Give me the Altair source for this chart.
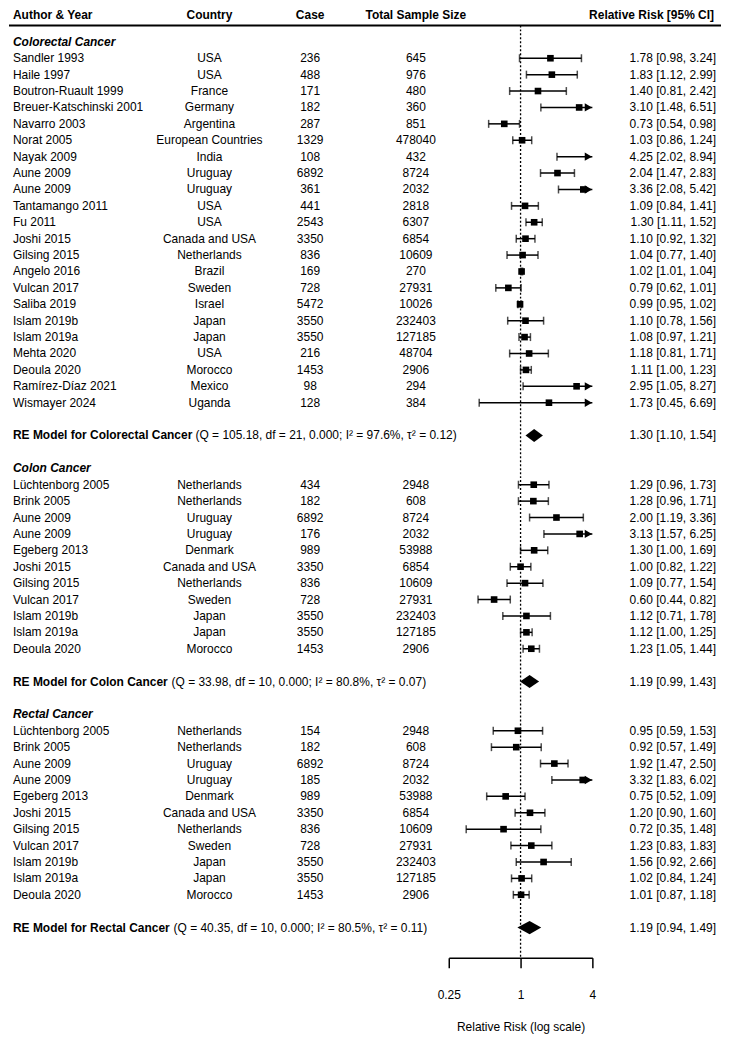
import altair as alt
import pandas as pd

FONT = "Liberation Sans"

# ---------------- data ----------------
colorectal_author = ["Sandler 1993", "Haile 1997", "Boutron-Ruault 1999", "Breuer-Katschinski 2001",
                     "Navarro 2003", "Norat 2005", "Nayak 2009", "Aune 2009", "Aune 2009",
                     "Tantamango 2011", "Fu 2011", "Joshi 2015", "Gilsing 2015", "Angelo 2016",
                     "Vulcan 2017", "Saliba 2019", "Islam 2019b", "Islam 2019a", "Mehta 2020",
                     "Deoula 2020", "Ramírez-Díaz 2021", "Wismayer 2024"]
colorectal_country = ["USA", "USA", "France", "Germany", "Argentina", "European Countries", "India",
                      "Uruguay", "Uruguay", "USA", "USA", "Canada and USA", "Netherlands", "Brazil",
                      "Sweden", "Israel", "Japan", "Japan", "USA", "Morocco", "Mexico", "Uganda"]
colorectal_case = [236, 488, 171, 182, 287, 1329, 108, 6892, 361, 441, 2543, 3350, 836, 169, 728,
                   5472, 3550, 3550, 216, 1453, 98, 128]
colorectal_total = [645, 976, 480, 360, 851, 478040, 432, 8724, 2032, 2818, 6307, 6854, 10609, 270,
                    27931, 10026, 232403, 127185, 48704, 2906, 294, 384]
colorectal_rr = [1.78, 1.83, 1.40, 3.10, 0.73, 1.03, 4.25, 2.04, 3.36, 1.09, 1.30, 1.10, 1.04, 1.02,
                 0.79, 0.99, 1.10, 1.08, 1.18, 1.11, 2.95, 1.73]
colorectal_lo = [0.98, 1.12, 0.81, 1.48, 0.54, 0.86, 2.02, 1.47, 2.08, 0.84, 1.11, 0.92, 0.77, 1.01,
                 0.62, 0.95, 0.78, 0.97, 0.81, 1.00, 1.05, 0.45]
colorectal_hi = [3.24, 2.99, 2.42, 6.51, 0.98, 1.24, 8.94, 2.83, 5.42, 1.41, 1.52, 1.32, 1.40, 1.04,
                 1.01, 1.02, 1.56, 1.21, 1.71, 1.23, 8.27, 6.69]

colon_author = ["Lüchtenborg 2005", "Brink 2005", "Aune 2009", "Aune 2009", "Egeberg 2013",
                "Joshi 2015", "Gilsing 2015", "Vulcan 2017", "Islam 2019b", "Islam 2019a", "Deoula 2020"]
colon_country = ["Netherlands", "Netherlands", "Uruguay", "Uruguay", "Denmark", "Canada and USA",
                 "Netherlands", "Sweden", "Japan", "Japan", "Morocco"]
colon_case = [434, 182, 6892, 176, 989, 3350, 836, 728, 3550, 3550, 1453]
colon_total = [2948, 608, 8724, 2032, 53988, 6854, 10609, 27931, 232403, 127185, 2906]
colon_rr = [1.29, 1.28, 2.00, 3.13, 1.30, 1.00, 1.09, 0.60, 1.12, 1.12, 1.23]
colon_lo = [0.96, 0.96, 1.19, 1.57, 1.00, 0.82, 0.77, 0.44, 0.71, 1.00, 1.05]
colon_hi = [1.73, 1.71, 3.36, 6.25, 1.69, 1.22, 1.54, 0.82, 1.78, 1.25, 1.44]

rectal_author = ["Lüchtenborg 2005", "Brink 2005", "Aune 2009", "Aune 2009", "Egeberg 2013",
                 "Joshi 2015", "Gilsing 2015", "Vulcan 2017", "Islam 2019b", "Islam 2019a", "Deoula 2020"]
rectal_country = ["Netherlands", "Netherlands", "Uruguay", "Uruguay", "Denmark", "Canada and USA",
                  "Netherlands", "Sweden", "Japan", "Japan", "Morocco"]
rectal_case = [154, 182, 6892, 185, 989, 3350, 836, 728, 3550, 3550, 1453]
rectal_total = [2948, 608, 8724, 2032, 53988, 6854, 10609, 27931, 232403, 127185, 2906]
rectal_rr = [0.95, 0.92, 1.92, 3.32, 0.75, 1.20, 0.72, 1.23, 1.56, 1.02, 1.01]
rectal_lo = [0.59, 0.57, 1.47, 1.83, 0.52, 0.90, 0.35, 0.83, 0.92, 0.84, 0.87]
rectal_hi = [1.53, 1.49, 2.50, 6.02, 1.09, 1.60, 1.48, 1.83, 2.66, 1.24, 1.18]

group_names = ["Colorectal Cancer", "Colon Cancer", "Rectal Cancer"]
re_rr = [1.30, 1.19, 1.19]
re_lo = [1.10, 0.99, 0.94]
re_hi = [1.54, 1.43, 1.49]
re_q = ["105.18", "33.98", "40.35"]
re_df = ["21", "10", "10"]
re_p = ["0.000", "0.000", "0.000"]
re_i2 = ["97.6", "80.8", "80.5"]
re_tau2 = ["0.12", "0.07", "0.11"]

axis_ticks = [0.25, 1, 4]
X_MIN, X_MAX = 0.25, 4.0

# ---------------- tables ----------------
sections = [
    (colorectal_author, colorectal_country, colorectal_case, colorectal_total, colorectal_rr, colorectal_lo, colorectal_hi),
    (colon_author, colon_country, colon_case, colon_total, colon_rr, colon_lo, colon_hi),
    (rectal_author, rectal_country, rectal_case, rectal_total, rectal_rr, rectal_lo, rectal_hi),
]

study_recs, header_recs, re_recs = [], [], []
r = 0
for k, (au, co, ca, to, rr, lo, hi) in enumerate(sections):
    header_recs.append({"row": r, "label": group_names[k]})
    r += 1
    for i in range(len(au)):
        study_recs.append({
            "row": r, "author": au[i], "country": co[i], "case": str(ca[i]), "total": str(to[i]),
            "rr": rr[i], "lo": lo[i], "hi": hi[i],
            "rr_text": f"{rr[i]:.2f} [{lo[i]:.2f}, {hi[i]:.2f}]",
        })
        r += 1
    r += 1
    re_recs.append({
        "row": r, "group": group_names[k], "rr": re_rr[k], "lo": re_lo[k], "hi": re_hi[k],
        "label": f"RE Model for {group_names[k]}",
        "stats": f"(Q = {re_q[k]}, df = {re_df[k]}, {re_p[k]}; I² = {re_i2[k]}%, τ² = {re_tau2[k]})",
        "rr_text": f"{re_rr[k]:.2f} [{re_lo[k]:.2f}, {re_hi[k]:.2f}]",
    })
    r += 2

studies = pd.DataFrame(study_recs)
studies["hi_c"] = studies["hi"].clip(upper=X_MAX)
headers = pd.DataFrame(header_recs)
re_df_tbl = pd.DataFrame(re_recs)

caps = pd.concat([
    studies[["row", "lo"]].rename(columns={"lo": "x"}),
    studies.loc[studies["hi"] <= X_MAX, ["row", "hi"]].rename(columns={"hi": "x"}),
])
points = studies[studies["rr"] <= X_MAX]
arrows = studies.loc[studies["hi"] > X_MAX, ["row"]].assign(x=X_MAX)

HALF = 0.4
diamond_recs = []
for rec in re_recs:
    diamond_recs += [
        {"group": rec["group"], "x": rec["lo"], "y1": rec["row"], "y2": rec["row"]},
        {"group": rec["group"], "x": rec["rr"], "y1": rec["row"] - HALF, "y2": rec["row"] + HALF},
        {"group": rec["group"], "x": rec["hi"], "y1": rec["row"], "y2": rec["row"]},
    ]
diamonds = pd.DataFrame(diamond_recs)
ref = pd.DataFrame({"ref": [1.0]})
dummy = pd.DataFrame({"a": [0]})

# ---------------- scales ----------------
W, H = 714, 950
xscale = alt.Scale(type="log", base=2, domain=[X_MIN, X_MAX], range=[441, 585], nice=False)
yscale = alt.Scale(domain=[-1.915, 55.84], reverse=True, nice=False, zero=False)
TITLE = "Relative Risk (log scale)"
xaxis = alt.Axis(values=axis_ticks, format="~g", tickSize=10, tickWidth=1.5, domainWidth=1.5,
                 labelPadding=22, titlePadding=21, grid=False, labelFlush=False, labelOverlap=False,
                 domainColor="black", tickColor="black", labelColor="black", titleColor="black",
                 labelFont=FONT, titleFont=FONT, labelFontSize=12, titleFontSize=12,
                 titleFontWeight="normal")


def X(field):
    return alt.X(f"{field}:Q", scale=xscale, axis=xaxis, title=TITLE)


def Y(field="row"):
    return alt.Y(f"{field}:Q", scale=yscale, axis=None)


def txt(df, field, x, align="left", weight="normal", style="normal"):
    return alt.Chart(df).mark_text(align=align, baseline="middle", font=FONT, fontSize=12,
                                   fontWeight=weight, fontStyle=style, color="black").encode(
        x=alt.value(x), y=Y(), text=f"{field}:N")


layers = []

# header
hdr_specs = [("Author & Year", 4, "left"), ("Country", 201, "center"), ("Case", 302, "center"),
             ("Total Sample Size", 408, "center"), ("Relative Risk [95% CI]", 707, "right")]
for label, x, al in hdr_specs:
    layers.append(alt.Chart(dummy).mark_text(align=al, baseline="top", font=FONT, fontSize=12,
                                             fontWeight="bold", color="black", text=label)
                  .encode(x=alt.value(x), y=alt.value(0)))
layers.append(alt.Chart(dummy).mark_rule(color="black", strokeWidth=2)
              .encode(x=alt.value(0), x2=alt.value(W), y=alt.value(15)))

# reference line at 1
layers.append(alt.Chart(ref).mark_rule(color="black", strokeWidth=1.3, strokeDash=[2, 2])
              .encode(x=X("ref"), y=alt.value(15), y2=alt.value(H)))

# text columns
layers.append(txt(headers, "label", 4, weight="bold", style="italic"))
layers.append(txt(studies, "author", 4))
layers.append(txt(studies, "country", 201, align="center"))
layers.append(txt(studies, "case", 302, align="center"))
layers.append(txt(studies, "total", 408, align="center"))
layers.append(txt(studies, "rr_text", 709, align="right"))
layers.append(txt(re_df_tbl, "label", 4, weight="bold"))
layers.append(txt(re_df_tbl, "rr_text", 709, align="right"))
stats_x = {"Colorectal Cancer": 187, "Colon Cancer": 163, "Rectal Cancer": 165}
for g in group_names:
    layers.append(txt(re_df_tbl[re_df_tbl["group"] == g], "stats", stats_x[g]))

# forest marks
layers.append(alt.Chart(studies).mark_rule(color="black", strokeWidth=1.5)
              .encode(x=X("lo"), x2="hi_c:Q", y=Y()))
layers.append(alt.Chart(caps).mark_tick(orient="vertical", size=8, thickness=1.5, color="black")
              .encode(x=X("x"), y=Y()))
layers.append(alt.Chart(points).mark_square(size=44, color="black", opacity=1)
              .encode(x=X("rr"), y=Y()))
layers.append(alt.Chart(arrows).mark_point(shape="triangle-right", filled=True, size=70,
                                           color="black", opacity=1, xOffset=-4)
              .encode(x=X("x"), y=Y()))
layers.append(alt.Chart(diamonds).mark_area(orient="vertical", color="black", opacity=1)
              .encode(x=X("x"), y=Y("y1"), y2="y2:Q", detail="group:N"))

chart = alt.layer(*layers).properties(width=W, height=H, padding=0).configure_view(stroke=None)

chart.save("out.html", embed_options={"renderer": "svg", "actions": False})
